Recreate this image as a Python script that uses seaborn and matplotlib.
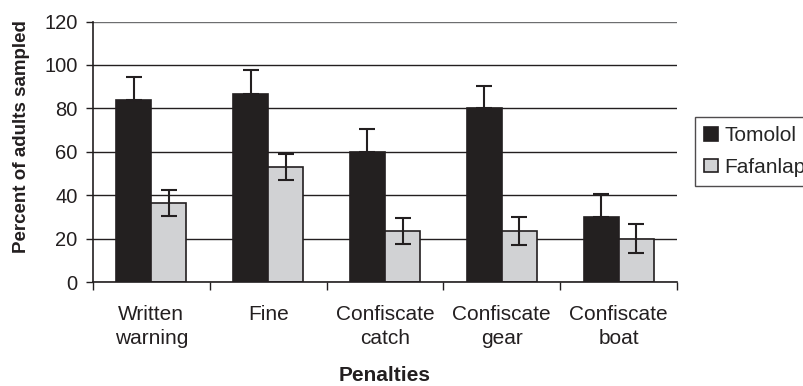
import numpy as np
import pandas as pd
import matplotlib
matplotlib.use("Agg")
import matplotlib.pyplot as plt
import seaborn as sns
from matplotlib.ticker import FixedLocator

penalties = ["Written\nwarning", "Fine", "Confiscate\ncatch", "Confiscate\ngear", "Confiscate\nboat"]
tomolol = [84, 86.5, 60, 80, 30]
tomolol_err = [10.5, 11, 10.5, 10.5, 10.5]
fafanlap = [36.5, 53, 23.5, 23.5, 20]
fafanlap_err = [6, 6, 6, 6.5, 6.5]
sites = ["Tomolol", "Fafanlap"]

df = pd.DataFrame({
    "penalty": penalties * 2,
    "site": ["Tomolol"] * 5 + ["Fafanlap"] * 5,
    "pct": tomolol + fafanlap,
})

sns.set_style("white")
plt.rcParams['font.family'] = ['Liberation Sans', 'DejaVu Sans']

ink = "#231f20"
fig = plt.figure(figsize=(8.04, 3.86), dpi=100)
ax = fig.add_axes([93 / 804, 1 - 282 / 386, (677 - 93) / 804, (282 - 21.5) / 386])

sns.barplot(data=df, x="penalty", y="pct", hue="site", hue_order=sites,
            palette=[ink, "#d1d2d4"], width=0.6, errorbar=None,
            edgecolor=ink, linewidth=1.2, ax=ax, zorder=2)

# error bars: Tomolol only upward, Fafanlap both ways
conts = ax.containers
for cont, vals, errs, upper_only in [(conts[0], tomolol, tomolol_err, True),
                                     (conts[1], fafanlap, fafanlap_err, False)]:
    xs = [p.get_x() + p.get_width() / 2 for p in cont.patches]
    lower = [0] * len(errs) if upper_only else errs
    ax.errorbar(xs, vals, yerr=[lower, errs], fmt="none", ecolor=ink,
                elinewidth=1.5, capsize=6, capthick=1.5, zorder=3)

ax.set_ylim(0, 120)
ax.set_xlim(-0.5, 4.5)
ax.set_yticks(range(0, 121, 20))
ax.yaxis.grid(True, color=ink, linewidth=1.0, zorder=0)
ax.set_axisbelow(True)
gl = ax.yaxis.get_gridlines()
gl[-1].set_color("#6d6e70")
for s in ["top", "right"]:
    ax.spines[s].set_visible(False)
for s in ["left", "bottom"]:
    ax.spines[s].set_color(ink)
    ax.spines[s].set_linewidth(1.2)

ax.xaxis.set_major_locator(FixedLocator(np.arange(-0.5, 5, 1)))
ax.xaxis.set_minor_locator(FixedLocator(np.arange(0, 5)))
ax.set_xticklabels([], minor=False)
ax.set_xticklabels(penalties, minor=True, linespacing=1.35)
ax.tick_params(axis="x", which="major", length=6, width=1, color=ink, direction="out", bottom=True)
ax.tick_params(axis="x", which="minor", length=0, labelsize=15, pad=16.5, colors=ink)
ax.tick_params(axis="y", length=5, width=1, color=ink, direction="out", left=True,
               labelsize=14.5, labelcolor=ink, pad=6)

ax.set_xlabel("Penalties", fontsize=15, fontweight="bold", color=ink)
ax.set_ylabel("Percent of adults sampled", fontsize=13.5, fontweight="bold", color=ink)
ax.xaxis.set_label_coords(0.5, -0.324)
ax.yaxis.set_label_coords(-0.108, 0.557)

leg = ax.legend(loc="upper left", bbox_to_anchor=(695 / 804, 1 - 117 / 386), bbox_transform=fig.transFigure,
                frameon=True, fontsize=15, handlelength=0.65, handleheight=0.6, handletextpad=0.3,
                borderpad=0.45, labelspacing=0.6, borderaxespad=0, fancybox=False, edgecolor=ink)
leg.get_frame().set_linewidth(1.0)

fig.savefig("out.png", dpi=100)
